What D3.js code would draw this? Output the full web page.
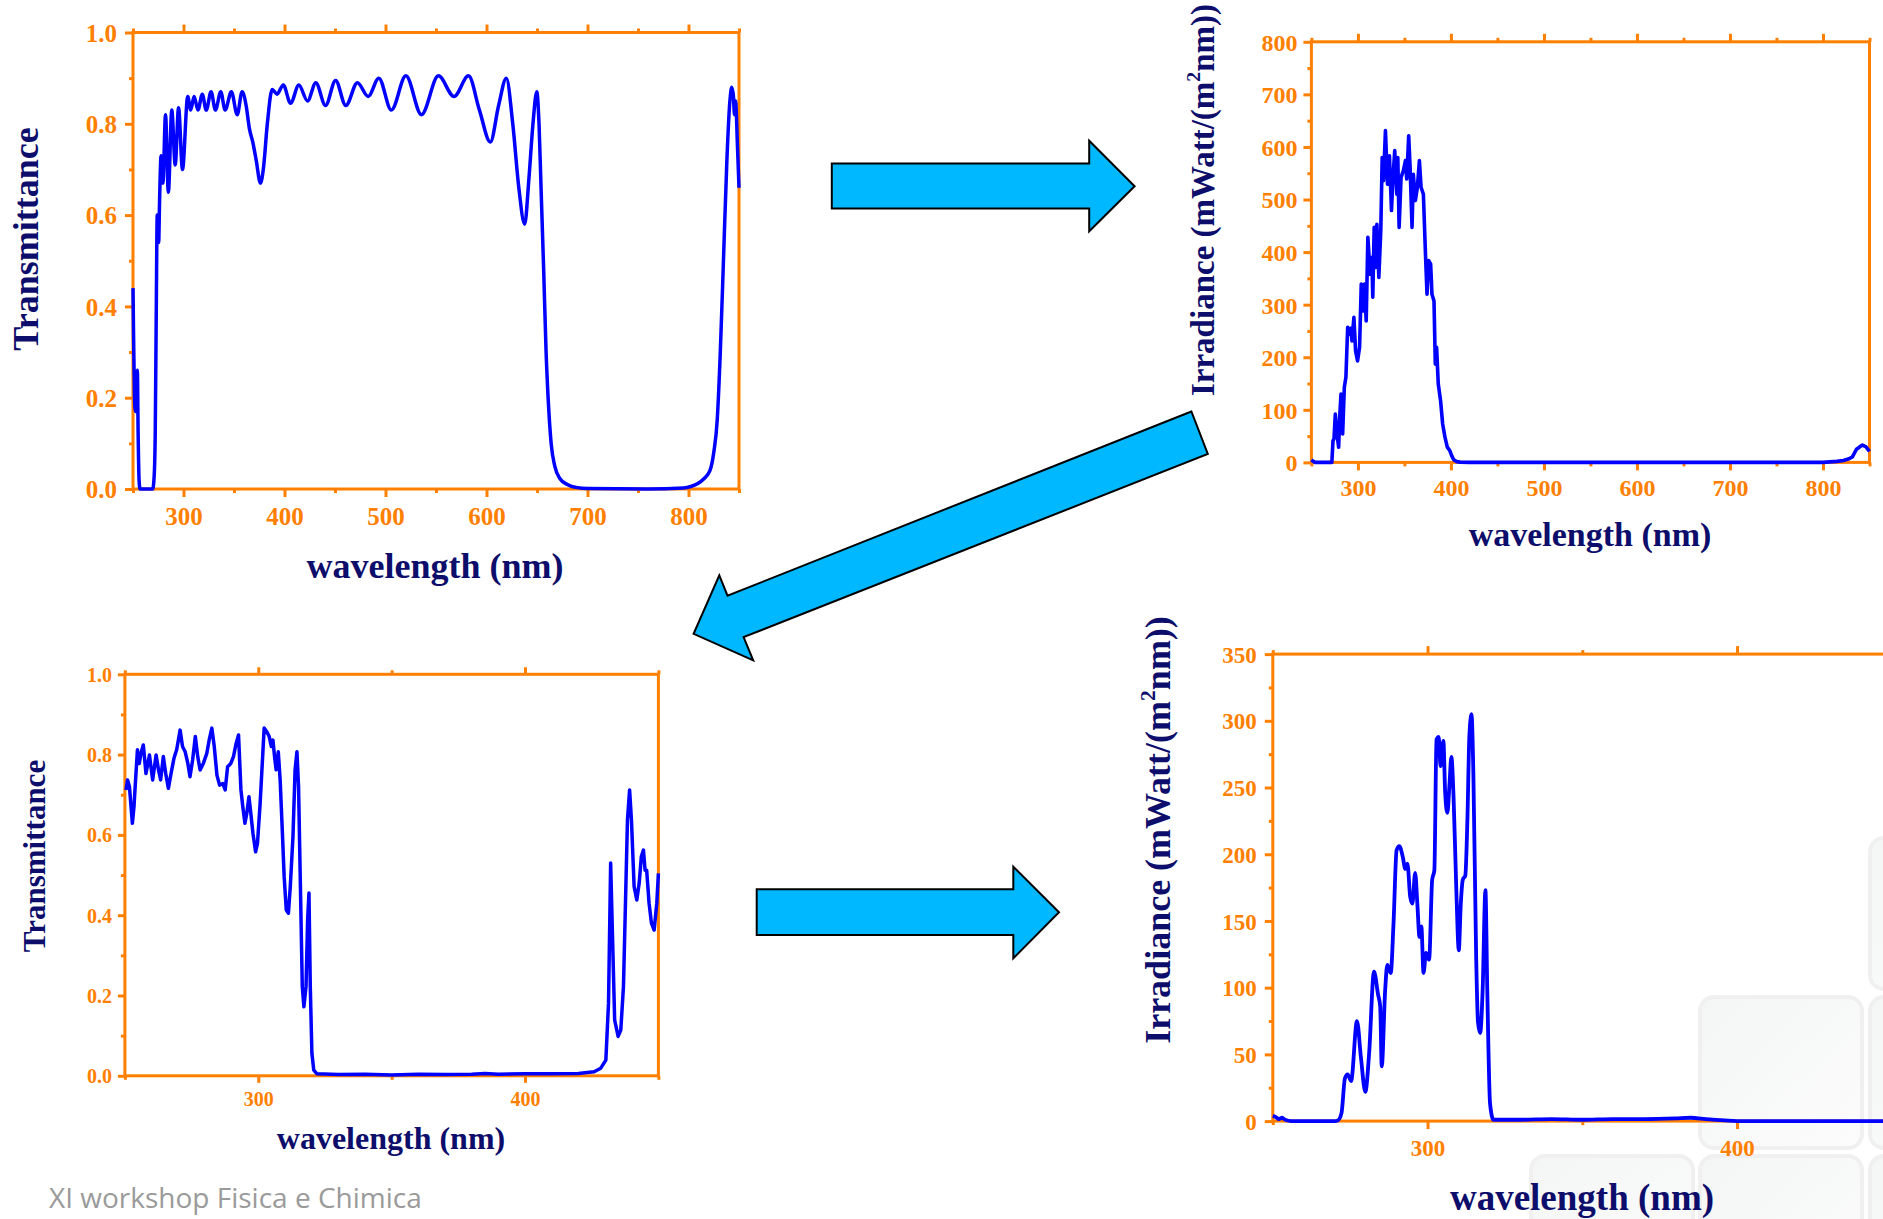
<!DOCTYPE html>
<html>
<head>
  <meta charset="utf-8">
  <script src="https://d3js.org/d3.v7.min.js"></script>
  <style>
    body { margin: 0; background: #fff; overflow: hidden; }
    svg text { font-family: "Liberation Serif", "Times New Roman", serif; font-weight: bold; }
  </style>
</head>
<body>
<script>
  // ---------- data ----------
  // [wavelength nm, transmittance] - first filter, 250-850 nm
  var trans1 = [[250,0.44],[250.6,0.33],[251.5,0.2],[252.4,0.17],[253.4,0.21],[254.3,0.26],[255.1,0.12],[256,0.02],[257,0],[262,0],
    [269.5,0],[271,0.03],[272,0.12],[273,0.38],[274,0.6],[274.7,0.57],[275.4,0.54],[276.3,0.63],[277.8,0.73],[278.6,0.68],[279.6,0.67],
    [282.2,0.82],[285,0.65],[288.4,0.83],[291.8,0.71],[295.1,0.835],[299,0.7],[304.2,0.86],[307.1,0.83],[310.5,0.86],[314.3,0.83],
    [318.6,0.865],[322.5,0.83],[327.3,0.87],[331.6,0.83],[336.9,0.87],[341.2,0.83],[347.4,0.87],[353.2,0.82],[358,0.87],[362,0.84],
    [365.2,0.79],[368.6,0.76],[372,0.72],[376.2,0.67],[379,0.7],[383,0.8],[387.8,0.875],[392.6,0.865],[398.8,0.885],[406,0.845],
    [414.2,0.885],[422.8,0.85],[431,0.89],[440.6,0.84],[450.6,0.895],[460.7,0.84],[472.2,0.89],[482.8,0.86],[493.4,0.9],[505.8,0.83],
    [520.2,0.905],[535.6,0.82],[552.4,0.905],[567.8,0.86],[582.2,0.905],[593,0.83],[603.8,0.76],[612,0.84],[619.6,0.9],[626,0.8],
    [632,0.66],[637.8,0.58],[642,0.68],[646,0.8],[649.8,0.87],[652,0.8],[654,0.66],[656.6,0.48],[659,0.3],[661,0.2],[664,0.1],
    [667.6,0.05],[673,0.022],[680,0.01],[690,0.003],[700,0.001],[760,0],[795,0.002],[803,0.006],[809.2,0.012],[815,0.022],
    [821.2,0.04],[825,0.08],[828.4,0.15],[831.5,0.3],[834.6,0.5],[838,0.72],[841,0.85],[842.8,0.88],[844.5,0.86],[845.5,0.82],
    [846.6,0.85],[848.5,0.75],[850,0.66]];

  // [wavelength nm, irradiance mW/(m2 nm)] - light through the first filter
  var irr1 = [[250,5],[252,2],[254,0],[265,0],[272,0],[273.2,41],[274.3,45],[275.7,92],[277.5,54],[279.3,29],[280.4,85],[281.8,130],
    [283.6,54],[285.4,143],[287.1,162],[289,257],[291,244],[292.4,255],[293.6,231],[295.7,276],[297.5,212],[299.6,193],[301.8,219],
    [303.6,339],[305.4,288],[307.1,339],[308.9,269],[310.7,428],[313.2,358],[315,390],[316,314],[317.5,447],[319,371],[320.4,453],
    [322.5,352],[324.6,441],[326.1,580],[327.5,536],[329.6,631],[331.8,529],[333.9,583],[336.1,479],[337.5,536],[339.6,593],
    [341.8,510],[342.9,580],[344.3,447],[346.4,542],[348.9,555],[351.1,574],[352.5,539],[354.6,621],[356.1,561],[358.2,447],
    [359.6,548],[361.8,498],[363.9,523],[366.1,574],[367.9,523],[370.4,510],[372.5,403],[374.3,320],[376.1,384],[378.2,377],
    [379.6,320],[381.8,307],[383.2,187],[384.6,219],[386.4,149],[388.9,117],[391.1,73],[393.6,48],[396.1,29],[398.9,22],[401,12],
    [403,5],[406,1.5],[410,0.5],[420,0],[800,0],[815,2],[822,3.5],[828,7],[831.6,10.5],[836,25],[842.3,33],[846,30],[850,21]];

  // [wavelength nm, transmittance] - second filter, 250-450 nm
  var trans2 = [[250.4,0.712],[251,0.737],[251.7,0.72],[252.2,0.679],[252.8,0.629],[253.4,0.67],[254,0.737],[254.7,0.812],
    [255.4,0.778],[256,0.803],[256.9,0.824],[257.9,0.753],[259.2,0.799],[260.4,0.737],[261.7,0.799],[262.6,0.762],[263.4,0.737],
    [264.4,0.795],[265.3,0.753],[266.3,0.716],[267.3,0.753],[268.4,0.791],[269.4,0.812],[270.7,0.861],[271.6,0.82],[272.6,0.807],
    [273.6,0.778],[274.4,0.745],[275.4,0.787],[276.4,0.845],[277.3,0.795],[278.2,0.762],[279.4,0.778],[280.7,0.803],[281.7,0.84],
    [282.6,0.866],[283.5,0.82],[284.5,0.749],[285.5,0.724],[286.7,0.728],[287.6,0.712],[288.5,0.77],[289.7,0.778],[290.7,0.795],
    [291.7,0.828],[292.6,0.849],[293.5,0.712],[294.2,0.67],[295,0.629],[295.7,0.654],[296.5,0.695],[297.2,0.654],[298,0.604],
    [299,0.558],[299.7,0.579],[300.7,0.679],[301.7,0.803],[302.2,0.866],[303.2,0.857],[304.1,0.845],[304.9,0.82],[305.5,0.836],
    [306.1,0.795],[306.7,0.762],[307.5,0.807],[308.2,0.737],[309,0.612],[309.7,0.496],[310.5,0.413],[311.3,0.405],[312,0.471],
    [313,0.595],[313.8,0.762],[314.5,0.807],[315.1,0.72],[315.8,0.471],[316.5,0.222],[317.1,0.172],[317.9,0.222],[318.5,0.388],
    [319,0.455],[319.5,0.222],[320.1,0.056],[320.8,0.014],[322,0.005],[330,0.003],[340,0.004],[350,0.002],[360,0.004],[370,0.003],
    [380,0.004],[385,0.006],[390,0.004],[400,0.005],[410,0.005],[420,0.006],[425.9,0.01],[428.4,0.019],[430.3,0.039],[431.3,0.181],
    [432.1,0.53],[432.8,0.346],[433.6,0.139],[434.9,0.098],[435.9,0.114],[436.9,0.222],[437.8,0.471],[438.4,0.637],[439.2,0.712],
    [439.9,0.637],[440.9,0.471],[441.9,0.438],[442.8,0.48],[443.6,0.546],[444.4,0.562],[445,0.512],[445.6,0.512],[446.5,0.43],
    [447.4,0.38],[448.4,0.363],[449.4,0.43],[450,0.504]];

  // [wavelength nm, irradiance mW/(m2 nm)] - light through both filters
  var irr2 = [[250,4],[251,3],[252,1.5],[253,2.5],[254,1],[256,0],[270,0],[271,0.5],[272.2,6],[273.3,32],[274.2,35],[275.3,30],
    [277.2,75],[278.5,47],[279.9,22],[281.1,50],[282.7,112],[284,95],[284.7,86],[285.2,41],[286.3,98],[287,117],[288.1,111],
    [289,148],[290,203],[290.9,206],[292,198],[292.8,189],[293.5,193],[294.4,168],[295.1,163],[296,186],[296.7,163],[297.4,138],
    [298,146],[298.7,111],[299.5,126],[300.5,121],[301.5,181],[302.2,188],[302.9,286],[303.6,288],[304.2,266],[305.1,285],
    [305.7,246],[306.4,231],[307.1,253],[307.7,273],[308.4,243],[309.3,173],[310.1,128],[310.7,161],[311.4,181],[312.2,184],
    [312.9,228],[313.5,288],[314.2,305],[314.8,261],[315.7,124],[316.3,74],[317,66],[317.8,98],[318.7,173],[319.3,98],[320.2,13],
    [321.3,1],[330,1],[340,1.5],[350,1],[360,1.5],[370,1.5],[380,2],[385,2.5],[390,1.5],[396,0.5],[400,0],[450,0]];

  // tick values
  var xTicksWide = [300, 400, 500, 600, 700, 800];
  var xMinorWide = [250, 350, 450, 550, 650, 750, 850];
  var xTicksNarrow = [300, 400];
  var xMinorNarrow = [250, 350, 450];
  var yTicksTrans = [0, 0.2, 0.4, 0.6, 0.8, 1.0];
  var yMinorTrans = [0.1, 0.3, 0.5, 0.7, 0.9];
  var yTicksIrr1 = [0, 100, 200, 300, 400, 500, 600, 700, 800];
  var yMinorIrr1 = [50, 150, 250, 350, 450, 550, 650, 750];
  var yTicksIrr2 = [0, 50, 100, 150, 200, 250, 300, 350];
  var yMinorIrr2 = [25, 75, 125, 175, 225, 275, 325];

  var orange = "#ff8000";
  var navy = "#0d0d6b";
  var blue = "#0000ff";

  var svg = d3.select("body").append("svg")
    .attr("width", 1883)
    .attr("height", 1219);

  // ---------- faint background tiles (slide template) ----------
  var grad = svg.append("defs").append("linearGradient")
    .attr("id", "tile").attr("x1", 0).attr("y1", 0).attr("x2", 1).attr("y2", 1);
  grad.append("stop").attr("offset", "0%").attr("stop-color", "#f4f5f5");
  grad.append("stop").attr("offset", "100%").attr("stop-color", "#fcfcfc");

  var tiles = [[1531, 1156], [1700, 997], [1700, 1156], [1870, 838], [1870, 997], [1870, 1156]];
  svg.selectAll(".tile")
    .data(tiles)
    .enter()
    .append("rect")
    .attr("x", function(d) { return d[0]; })
    .attr("y", function(d) { return d[1]; })
    .attr("width", 162)
    .attr("height", 151)
    .attr("rx", 14)
    .attr("fill", "url(#tile)")
    .attr("stroke", "#f0f0f0")
    .attr("stroke-width", 4);

  // ---------- panels ----------
  var panels = [
    { data: trans1, left: 133, right: 739, top: 32.5, bottom: 489, xDomain: [250, 850], yDomain: [0, 1],
      xTicks: xTicksWide, xMinor: xMinorWide, yTicks: yTicksTrans, yMinor: yMinorTrans, yFormat: d3.format(".1f"),
      tickFont: 25, major: 8, minor: 4, yGap: 16, xBase: 36, lineWidth: 3.5, curve: d3.curveMonotoneX,
      yTitle: ["Transmittance"], titleFont: 36, yTitleX: 38, yTitleY: 239, xTitleFont: 36, xTitleX: 435, xTitleY: 578 },
    { data: irr1, left: 1311.4, right: 1869.5, top: 41.8, bottom: 462.4, xDomain: [250, 850], yDomain: [0, 800],
      xTicks: xTicksWide, xMinor: xMinorWide, yTicks: yTicksIrr1, yMinor: yMinorIrr1, yFormat: d3.format("d"),
      tickFont: 24, major: 8, minor: 4, yGap: 14, xBase: 34, lineWidth: 3.6, curve: d3.curveLinear,
      yTitle: ["Irradiance (mWatt/(m", "2", "nm))"], titleFont: 33, yTitleX: 1214, yTitleY: 200, xTitleFont: 34, xTitleX: 1590, xTitleY: 546 },
    { data: trans2, left: 124.9, right: 658.4, top: 674.3, bottom: 1075.8, xDomain: [250, 450], yDomain: [0, 1],
      xTicks: xTicksNarrow, xMinor: xMinorNarrow, yTicks: yTicksTrans, yMinor: yMinorTrans, yFormat: d3.format(".1f"),
      tickFont: 20, major: 7, minor: 4, yGap: 13, xBase: 30, lineWidth: 3.5, curve: d3.curveLinear,
      yTitle: ["Transmittance"], titleFont: 31, yTitleX: 45, yTitleY: 856, xTitleFont: 32, xTitleX: 391, xTitleY: 1149 },
    { data: irr2, left: 1272.8, right: 1891.8, top: 654.1, bottom: 1121.1, xDomain: [250, 450], yDomain: [0, 350],
      xTicks: xTicksNarrow, xMinor: xMinorNarrow, yTicks: yTicksIrr2, yMinor: yMinorIrr2, yFormat: d3.format("d"),
      tickFont: 23, major: 8, minor: 4, yGap: 16, xBase: 35, lineWidth: 3.8, curve: d3.curveMonotoneX,
      yTitle: ["Irradiance (mWatt/(m", "2", "nm))"], titleFont: 36, yTitleX: 1170, yTitleY: 830, xTitleFont: 37, xTitleX: 1582, xTitleY: 1210 }
  ];

  function styleAxis(g, p) {
    g.select(".domain").remove();
    g.selectAll(".tick line").attr("stroke", orange).attr("stroke-width", 3);
    g.selectAll(".tick text").attr("fill", orange).style("font-size", p.tickFont + "px");
  }

  function drawPanel(p) {
    var x = d3.scaleLinear().domain(p.xDomain).range([p.left, p.right]);
    var y = d3.scaleLinear().domain(p.yDomain).range([p.bottom, p.top]);
    var g = svg.append("g");

    // left axis, majors with labels and minors without
    var gy = g.append("g").attr("transform", "translate(" + p.left + ",0)")
      .call(d3.axisLeft(y).tickValues(p.yTicks).tickSize(p.major).tickSizeOuter(0).tickFormat(p.yFormat));
    styleAxis(gy, p);
    gy.selectAll(".tick text").attr("x", -p.yGap).attr("dy", "0.35em");
    var gym = g.append("g").attr("transform", "translate(" + p.left + ",0)")
      .call(d3.axisLeft(y).tickValues(p.yMinor).tickSize(p.minor).tickSizeOuter(0).tickFormat(""));
    styleAxis(gym, p);

    // bottom axis
    var gx = g.append("g").attr("transform", "translate(0," + p.bottom + ")")
      .call(d3.axisBottom(x).tickValues(p.xTicks).tickSize(p.major).tickSizeOuter(0).tickFormat(d3.format("d")));
    styleAxis(gx, p);
    gx.selectAll(".tick text").attr("y", p.xBase).attr("dy", 0);
    var gxm = g.append("g").attr("transform", "translate(0," + p.bottom + ")")
      .call(d3.axisBottom(x).tickValues(p.xMinor).tickSize(p.minor).tickSizeOuter(0).tickFormat(""));
    styleAxis(gxm, p);

    // top axis, ticks only
    var gt = g.append("g").attr("transform", "translate(0," + p.top + ")")
      .call(d3.axisTop(x).tickValues(p.xTicks).tickSize(p.major).tickSizeOuter(0).tickFormat(""));
    styleAxis(gt, p);
    var gtm = g.append("g").attr("transform", "translate(0," + p.top + ")")
      .call(d3.axisTop(x).tickValues(p.xMinor).tickSize(p.minor).tickSizeOuter(0).tickFormat(""));
    styleAxis(gtm, p);

    // frame
    g.append("rect")
      .attr("x", p.left)
      .attr("y", p.top)
      .attr("width", p.right - p.left)
      .attr("height", p.bottom - p.top)
      .attr("fill", "none")
      .attr("stroke", orange)
      .attr("stroke-width", 3);

    // spectrum
    var line = d3.line()
      .x(function(d) { return x(d[0]); })
      .y(function(d) { return y(d[1]); })
      .curve(p.curve);
    g.append("path")
      .datum(p.data)
      .attr("d", line)
      .attr("fill", "none")
      .attr("stroke", blue)
      .attr("stroke-width", p.lineWidth)
      .attr("stroke-linejoin", "round");

    // axis titles
    g.append("text")
      .attr("x", p.xTitleX)
      .attr("y", p.xTitleY)
      .attr("text-anchor", "middle")
      .attr("fill", navy)
      .style("font-size", p.xTitleFont + "px")
      .text("wavelength (nm)");

    var yt = g.append("text")
      .attr("transform", "translate(" + p.yTitleX + "," + p.yTitleY + ") rotate(-90)")
      .attr("text-anchor", "middle")
      .attr("fill", navy)
      .style("font-size", p.titleFont + "px");
    yt.append("tspan").text(p.yTitle[0]);
    if (p.yTitle.length > 1) {
      // superscript 2 in m^2
      var lift = p.titleFont * 0.42;
      yt.append("tspan").attr("dy", -lift).style("font-size", (p.titleFont * 0.6) + "px").text(p.yTitle[1]);
      yt.append("tspan").attr("dy", lift).text(p.yTitle[2]);
    }
  }

  panels.forEach(drawPanel);

  // ---------- arrows between the panels ----------
  var arrows = [
    [[831.8,163.6],[1089.2,163.6],[1089.2,140.7],[1134.6,186.2],[1089.2,231.3],[1089.2,208.4],[831.8,208.4]],
    [[1191.4,411.5],[727.5,595.7],[719.3,575.3],[693.6,633.8],[753.2,660.4],[743.6,637.1],[1207.8,454]],
    [[756.7,889.3],[1013.3,889.3],[1013.3,866.7],[1059,912.3],[1013.3,958.3],[1013.3,935],[756.7,935]]
  ];
  svg.selectAll(".arrow")
    .data(arrows)
    .enter()
    .append("polygon")
    .attr("points", function(d) { return d.map(function(pt) { return pt.join(","); }).join(" "); })
    .attr("fill", "#00b8ff")
    .attr("stroke", "#000")
    .attr("stroke-width", 2);

  // footer
  svg.append("text")
    .attr("x", 49)
    .attr("y", 1208)
    .attr("fill", "#9a9a9a")
    .style("font-family", "'Open Sans', Lato, sans-serif")
    .style("font-weight", "normal")
    .style("font-size", "28px")
    .text("XI workshop Fisica e Chimica");
</script>
</body>
</html>
